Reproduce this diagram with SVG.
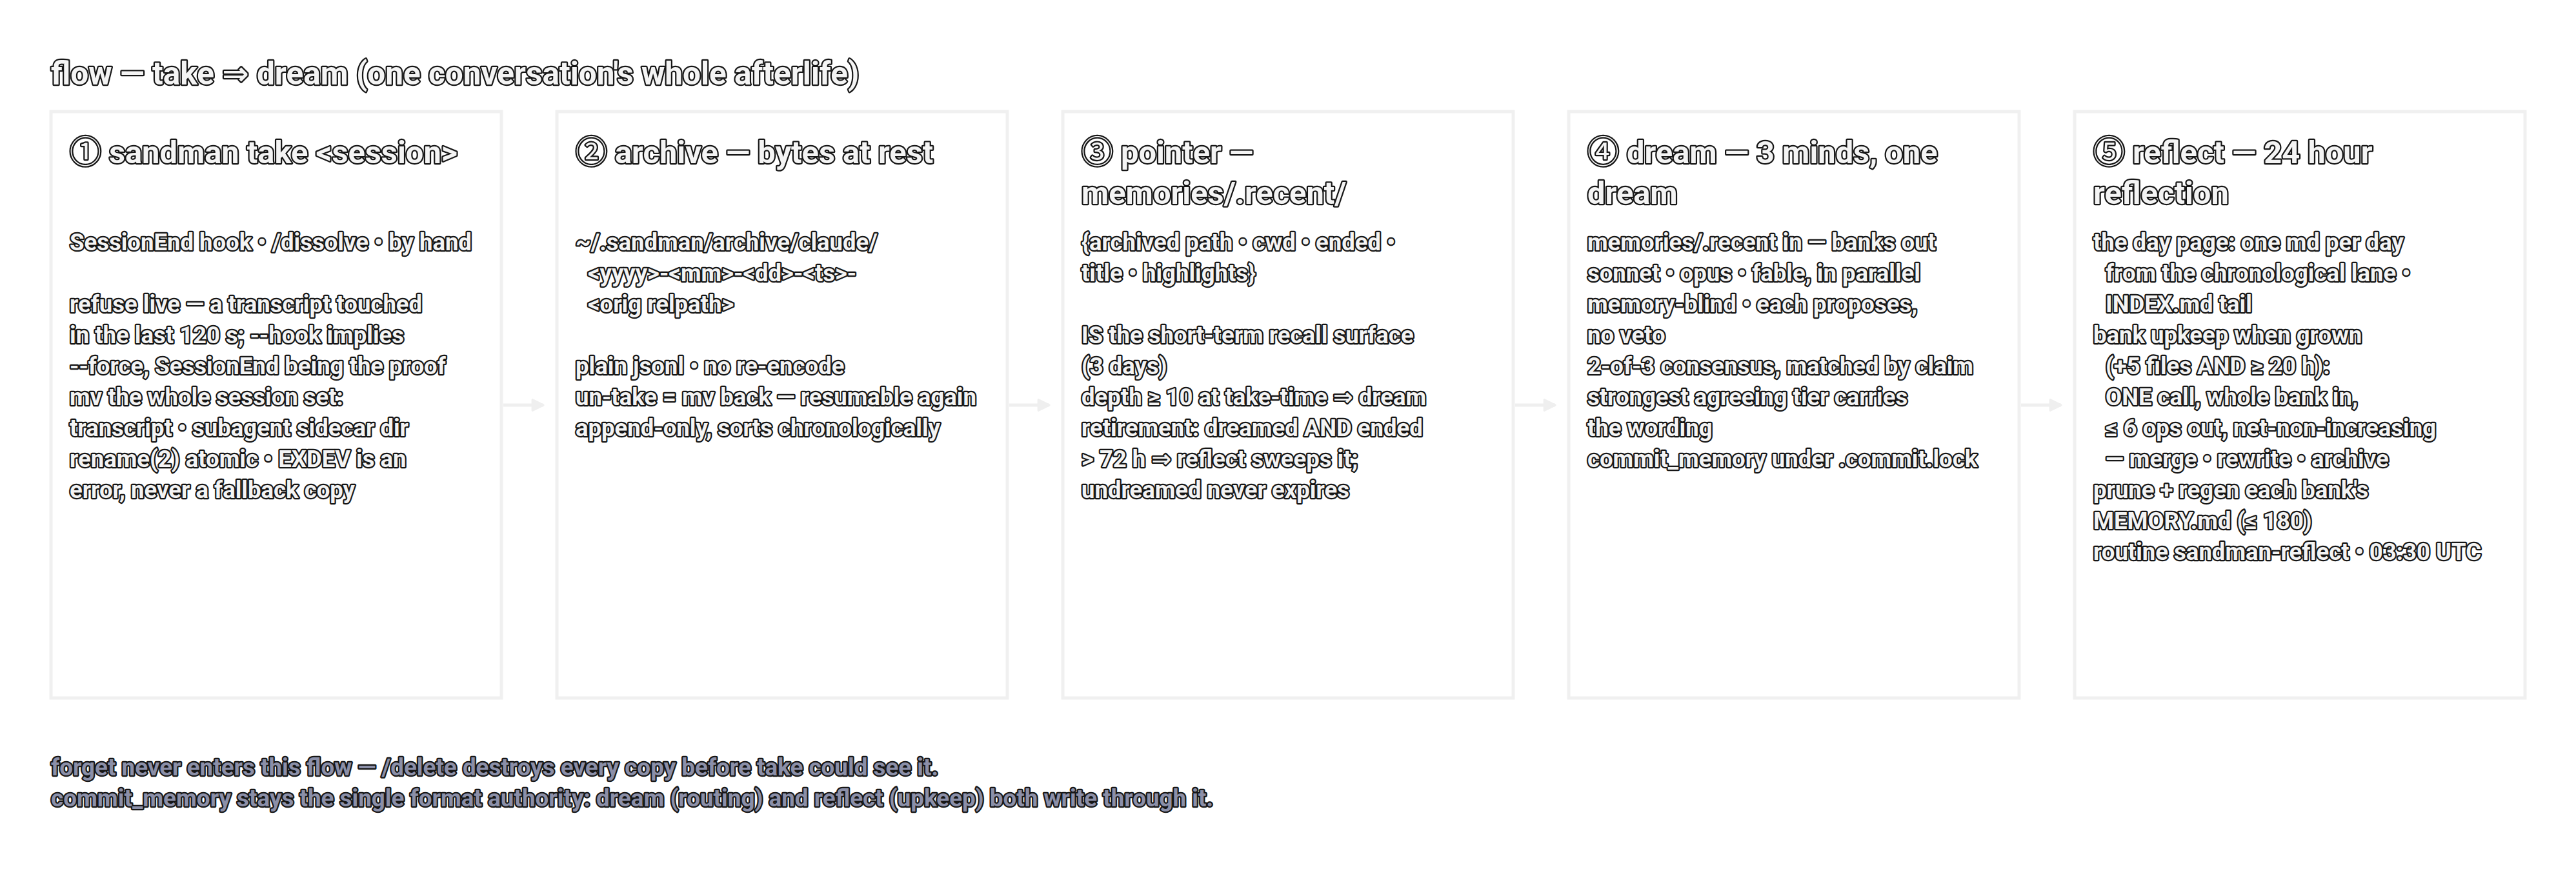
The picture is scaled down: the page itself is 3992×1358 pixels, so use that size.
<svg xmlns="http://www.w3.org/2000/svg" width="3992" height="1358" viewBox="0 0 3992 1358">
<defs>
<style>
text{font-family:Roboto,"Liberation Sans","DejaVu Sans","Noto Sans CJK SC",sans-serif;font-weight:700;paint-order:stroke;stroke-linejoin:round;}
.t{fill:#f4f4f4;stroke:#161616;stroke-width:4.5;}
.cd{font-family:"Noto Sans CJK SC","DejaVu Sans",sans-serif;font-weight:400;}
.title{font-size:49.5px;}
.hd{font-size:48.8px;}
.bd{font-size:36.5px;}
.ft{font-size:36.8px;fill:#8b8fa8;stroke:#161616;stroke-width:4.5;}
.box{fill:#ffffff;stroke:#f0f0f0;stroke-width:5;}
.conn{stroke:#efefef;stroke-width:5;fill:none;}
</style>
<marker id="ah" viewBox="0 0 10 10" refX="9" refY="5" markerWidth="4.2" markerHeight="4.2" orient="auto" markerUnits="strokeWidth">
<path d="M1,1 L9,5 L1,9 Z" fill="#efefef" stroke="#efefef" stroke-width="1.5" stroke-linejoin="round"/>
</marker>
</defs>
<rect width="3992" height="1358" fill="#ffffff"/>
<text class="t title" x="79" y="131">flow — take ⇒ dream (one conversation's whole afterlife)</text>

<g id="connectors">
<line class="conn" x1="780" y1="628" x2="842" y2="628" marker-end="url(#ah)"/>
<line class="conn" x1="1564" y1="628" x2="1626" y2="628" marker-end="url(#ah)"/>
<line class="conn" x1="2348" y1="628" x2="2410" y2="628" marker-end="url(#ah)"/>
<line class="conn" x1="3132" y1="628" x2="3194" y2="628" marker-end="url(#ah)"/>
</g>

<g id="node-take">
<rect class="box" x="79" y="173" width="698" height="909"/>
<text class="t hd" x="108" y="253"><tspan class="cd">①</tspan> sandman take &lt;session&gt;</text>
<text class="t bd" x="108" y="388">SessionEnd hook • /dissolve • by hand</text>
<text class="t bd" x="108" y="484">refuse live — a transcript touched</text>
<text class="t bd" x="108" y="532">in the last 120 s; --hook implies</text>
<text class="t bd" x="108" y="580">--force, SessionEnd being the proof</text>
<text class="t bd" x="108" y="628">mv the whole session set:</text>
<text class="t bd" x="108" y="676">transcript • subagent sidecar dir</text>
<text class="t bd" x="108" y="724">rename(2) atomic • EXDEV is an</text>
<text class="t bd" x="108" y="772">error, never a fallback copy</text>
</g>

<g id="node-archive">
<rect class="box" x="863" y="173" width="698" height="909"/>
<text class="t hd" x="892" y="253"><tspan class="cd">②</tspan> archive — bytes at rest</text>
<text class="t bd" x="892" y="388">~/.sandman/archive/claude/</text>
<text class="t bd" x="911" y="436">&lt;yyyy&gt;-&lt;mm&gt;-&lt;dd&gt;-&lt;ts&gt;-</text>
<text class="t bd" x="911" y="484">&lt;orig relpath&gt;</text>
<text class="t bd" x="892" y="580">plain jsonl • no re-encode</text>
<text class="t bd" x="892" y="628">un-take = mv back — resumable again</text>
<text class="t bd" x="892" y="676">append-only, sorts chronologically</text>
</g>

<g id="node-pointer">
<rect class="box" x="1647" y="173" width="698" height="909"/>
<text class="t hd" x="1676" y="253"><tspan class="cd">③</tspan> pointer —</text>
<text class="t hd" x="1676" y="316">memories/.recent/</text>
<text class="t bd" x="1676" y="388">{archived path • cwd • ended •</text>
<text class="t bd" x="1676" y="436">title • highlights}</text>
<text class="t bd" x="1676" y="532">IS the short-term recall surface</text>
<text class="t bd" x="1676" y="580">(3 days)</text>
<text class="t bd" x="1676" y="628">depth ≥ 10 at take-time ⇒ dream</text>
<text class="t bd" x="1676" y="676">retirement: dreamed AND ended</text>
<text class="t bd" x="1676" y="724">&gt; 72 h ⇒ reflect sweeps it;</text>
<text class="t bd" x="1676" y="772">undreamed never expires</text>
</g>

<g id="node-dream">
<rect class="box" x="2431" y="173" width="698" height="909"/>
<text class="t hd" x="2460" y="253"><tspan class="cd">④</tspan> dream — 3 minds, one</text>
<text class="t hd" x="2460" y="316">dream</text>
<text class="t bd" x="2460" y="388">memories/.recent in — banks out</text>
<text class="t bd" x="2460" y="436">sonnet • opus • fable, in parallel</text>
<text class="t bd" x="2460" y="484">memory-blind • each proposes,</text>
<text class="t bd" x="2460" y="532">no veto</text>
<text class="t bd" x="2460" y="580">2-of-3 consensus, matched by claim</text>
<text class="t bd" x="2460" y="628">strongest agreeing tier carries</text>
<text class="t bd" x="2460" y="676">the wording</text>
<text class="t bd" x="2460" y="724">commit_memory under .commit.lock</text>
</g>

<g id="node-reflect">
<rect class="box" x="3215" y="173" width="698" height="909"/>
<text class="t hd" x="3244" y="253"><tspan class="cd">⑤</tspan> reflect — 24 hour</text>
<text class="t hd" x="3244" y="316">reflection</text>
<text class="t bd" x="3244" y="388">the day page: one md per day</text>
<text class="t bd" x="3263" y="436">from the chronological lane •</text>
<text class="t bd" x="3263" y="484">INDEX.md tail</text>
<text class="t bd" x="3244" y="532">bank upkeep when grown</text>
<text class="t bd" x="3263" y="580">(+5 files AND ≥ 20 h):</text>
<text class="t bd" x="3263" y="628">ONE call, whole bank in,</text>
<text class="t bd" x="3263" y="676">≤ 6 ops out, net-non-increasing</text>
<text class="t bd" x="3263" y="724">— merge • rewrite • archive</text>
<text class="t bd" x="3244" y="772">prune + regen each bank's</text>
<text class="t bd" x="3244" y="820">MEMORY.md (≤ 180)</text>
<text class="t bd" x="3244" y="868">routine sandman-reflect • 03:30 UTC</text>
</g>

<g id="footer">
<text class="ft" x="79" y="1202">forget never enters this flow — /delete destroys every copy before take could see it.</text>
<text class="ft" x="79" y="1250">commit_memory stays the single format authority: dream (routing) and reflect (upkeep) both write through it.</text>
</g>
</svg>
